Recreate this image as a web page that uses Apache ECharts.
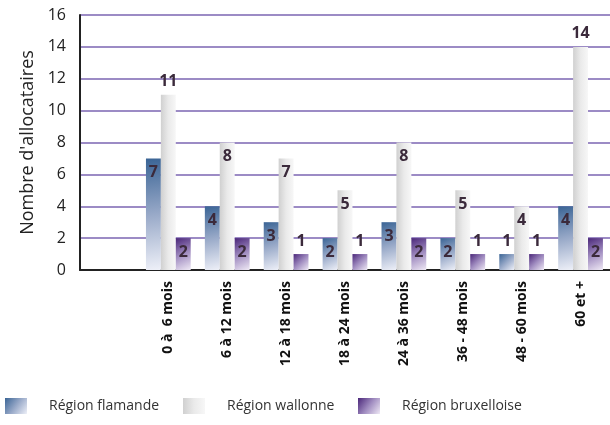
<!DOCTYPE html>
<html>
<head>
<meta charset="utf-8">
<script src="https://cdn.jsdelivr.net/npm/echarts@6/dist/echarts.min.js"></script>
<style>
  html, body { margin: 0; padding: 0; background: #ffffff; }
  #chart { width: 610px; height: 425px; }
</style>
</head>
<body>
<div id="chart"></div>
<script>
// Durée (tranches d'ancienneté) ; la première catégorie reste vide.
const categories = ['', '0 à  6 mois', '6 à 12 mois', '12 à 18 mois', '18 à 24 mois',
  '24 à 36 mois', '36 - 48 mois', '48 - 60 mois', '60 et +'];
const flamande    = [null, 7, 4, 3, 2, 3, 2, 1, 4];
const wallonne    = [null, 11, 8, 7, 5, 8, 5, 4, 14];
const bruxelloise = [null, 2, 2, 1, 1, 2, 1, 1, 2];
const seriesNames = ['Région flamande', 'Région wallonne', 'Région bruxelloise'];
const yTicks = { min: 0, max: 16, step: 2 };

const FONT = '"Open Sans", "Noto Sans", sans-serif';

// Étiquette dans le haut de la barre si elle y tient, sinon au-dessus.
function withLabels(values) {
  return values.map(v => {
    if (v === null) return '-';
    const fits = v >= 2 && v < 10;
    return {
      value: v,
      label: { position: fits ? 'insideTop' : 'top', distance: fits ? 6 : 5 }
    };
  });
}

const grad = (stops, x2, y2) => new echarts.graphic.LinearGradient(0, 0, x2, y2,
  stops.map((c, i) => ({ offset: i / (stops.length - 1), color: c })));

const colors = [
  grad(['#3a6495', '#98a9c8', '#eef0f8'], 1, 1),
  grad(['#d0d0d0', '#eaeaea', '#f7f7f7'], 1, 0),
  grad(['#4a2679', '#a08cc0', '#efe9f5'], 1, 1)
];

const dataSets = [flamande, wallonne, bruxelloise];

const chart = echarts.init(document.getElementById('chart'), null, { renderer: 'canvas' });

const legendPos = [5, 183, 358];

chart.setOption({
  animation: false,
  textStyle: { fontFamily: FONT },
  grid: { left: 80, right: 0, top: 15, bottom: 155, containLabel: false },
  legend: seriesNames.map((n, i) => ({
    data: [n],
    left: legendPos[i],
    top: 398,
    padding: 0,
    itemWidth: 22,
    itemHeight: 16,
    icon: 'rect',
    textStyle: { fontSize: 14, color: '#333333', fontFamily: FONT, padding: [0, 0, 0, 17] }
  })),
  xAxis: {
    type: 'category',
    data: categories,
    axisLine: { lineStyle: { color: '#222222', width: 2 } },
    axisTick: { show: false },
    axisLabel: {
      rotate: 90,
      interval: 0,
      margin: 11,
      fontSize: 14,
      fontWeight: 'bold',
      color: '#111111',
      fontFamily: FONT
    },
    splitLine: { show: false }
  },
  yAxis: {
    type: 'value',
    min: yTicks.min,
    max: yTicks.max,
    interval: yTicks.step,
    name: "Nombre d'allocataires",
    nameLocation: 'middle',
    nameGap: 42,
    nameTextStyle: { fontSize: 18, color: '#222222', fontFamily: FONT },
    axisLine: { show: true, lineStyle: { color: '#222222', width: 2 } },
    axisTick: { show: false },
    axisLabel: { fontSize: 16, color: '#222222', margin: 14, fontFamily: FONT },
    splitLine: { lineStyle: { color: '#7b64b2', width: 1.5 } }
  },
  series: dataSets.map((d, i) => ({
    name: seriesNames[i],
    type: 'bar',
    data: withLabels(d),
    barGap: '0%',
    barCategoryGap: '24%',
    itemStyle: { color: colors[i] },
    label: {
      show: true,
      fontSize: 16,
      fontWeight: 'bold',
      color: '#3b2a3b',
      fontFamily: FONT
    }
  }))
});
</script>
</body>
</html>
